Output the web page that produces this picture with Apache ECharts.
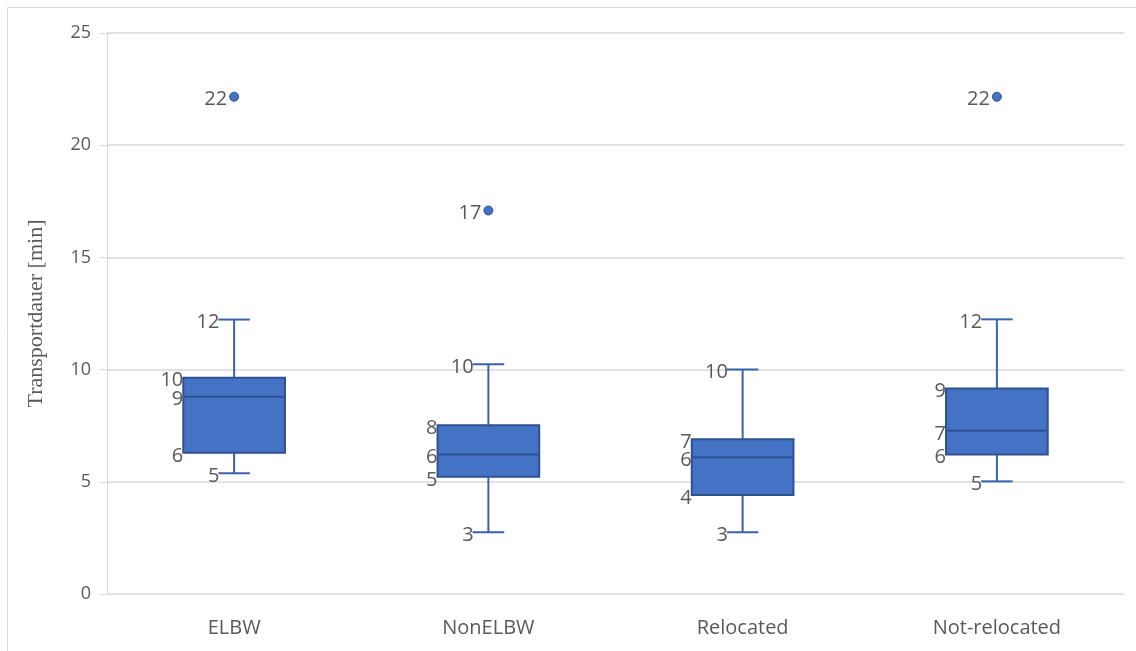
<!DOCTYPE html>
<html>
<head>
<meta charset="utf-8">
<script src="https://cdn.jsdelivr.net/npm/echarts@6/dist/echarts.min.js"></script>
<style>
html,body{margin:0;padding:0;background:#fff;}
#chart{width:1136px;height:651px;}
</style>
</head>
<body>
<div id="chart"></div>
<script>
// ---- data ----
const categories = ['ELBW', 'NonELBW', 'Relocated', 'Not-relocated'];
const whiskerLow  = [5.38, 2.75, 2.75, 5.02];
const q1          = [6.29, 5.22, 4.41, 6.22];
const median      = [8.79, 6.22, 6.09, 7.27];
const q3          = [9.64, 7.52, 6.90, 9.16];
const whiskerHigh = [12.23, 10.24, 10.0, 12.24];
const outliers    = [[0, 22.16], [1, 17.09], [3, 22.16]];
const yTicks = [0, 5, 10, 15, 20, 25];

const boxData = categories.map((c, i) => [i, whiskerLow[i], q1[i], median[i], q3[i], whiskerHigh[i]]);

const FILL = '#4472C4', BORDER = '#2F528F', WHISK = '#3862AE', LABEL = '#595959';
const labelFont = '20px "Open Sans", sans-serif';

function renderBox(params, api) {
  const idx = api.value(0);
  const vals = [api.value(1), api.value(2), api.value(3), api.value(4), api.value(5)];
  const pts = vals.map(v => api.coord([idx, v]));
  const cx = pts[0][0];
  const bw = api.size([1, 0])[0] * 0.4;
  const cw = bw * 0.31;
  const yLow = pts[0][1], yQ1 = pts[1][1], yMed = pts[2][1], yQ3 = pts[3][1], yHigh = pts[4][1];
  const children = [];
  const lineStyle = {stroke: WHISK, lineWidth: 2};
  children.push({type: 'line', shape: {x1: cx, y1: yHigh, x2: cx, y2: yQ3}, style: lineStyle});
  children.push({type: 'line', shape: {x1: cx, y1: yQ1, x2: cx, y2: yLow}, style: lineStyle});
  children.push({type: 'line', shape: {x1: cx - cw / 2, y1: yHigh, x2: cx + cw / 2, y2: yHigh}, style: lineStyle});
  children.push({type: 'line', shape: {x1: cx - cw / 2, y1: yLow, x2: cx + cw / 2, y2: yLow}, style: lineStyle});
  children.push({type: 'rect', shape: {x: cx - bw / 2, y: yQ3, width: bw, height: yQ1 - yQ3},
    style: {fill: FILL, stroke: BORDER, lineWidth: 2}});
  children.push({type: 'line', shape: {x1: cx - bw / 2, y1: yMed, x2: cx + bw / 2, y2: yMed},
    style: {stroke: BORDER, lineWidth: 2}});
  // labels
  const lab = (v, x, y) => ({type: 'text', style: {text: String(Math.round(v)), x: x, y: y + 3,
    align: 'right', verticalAlign: 'middle', font: labelFont, fill: LABEL}});
  children.push(lab(vals[4], cx - cw / 2 + 1, yHigh));
  children.push(lab(vals[3], cx - bw / 2, yQ3));
  children.push(lab(vals[2], cx - bw / 2, yMed));
  children.push(lab(vals[1], cx - bw / 2, yQ1));
  children.push(lab(vals[0], cx - cw / 2 + 1, yLow));
  return {type: 'group', children: children};
}

const chart = echarts.init(document.getElementById('chart'));
chart.setOption({
  backgroundColor: '#fff',
  animation: false,
  graphic: [
    {type: 'line', shape: {x1: 7.5, y1: 7.5, x2: 1136, y2: 7.5}, style: {stroke: '#d9d9d9', lineWidth: 1}},
    {type: 'line', shape: {x1: 7.5, y1: 7.5, x2: 7.5, y2: 651}, style: {stroke: '#d9d9d9', lineWidth: 1}}
  ],
  grid: {left: 107, right: 12, top: 33, bottom: 57, containLabel: false},
  xAxis: {
    type: 'category',
    data: categories,
    axisLine: {show: false},
    axisTick: {show: false},
    axisLabel: {color: LABEL, fontSize: 20, fontFamily: '"Open Sans", sans-serif', margin: 24},
    splitLine: {show: false}
  },
  yAxis: {
    type: 'value',
    min: yTicks[0],
    max: yTicks[yTicks.length - 1],
    interval: 5,
    name: 'Transportdauer [min]',
    nameLocation: 'middle',
    nameGap: 60,
    nameTextStyle: {color: LABEL, fontSize: 22, fontFamily: '"Liberation Serif", serif'},
    axisLine: {show: true, lineStyle: {color: '#d9d9d9', width: 1}},
    axisTick: {show: true, length: 8, lineStyle: {color: '#d9d9d9'}},
    axisLabel: {color: LABEL, fontSize: 18, fontFamily: '"Open Sans", sans-serif', margin: 16},
    splitLine: {show: true, lineStyle: {color: '#d9d9d9', width: 1.5}}
  },
  series: [
    {
      type: 'custom',
      renderItem: renderBox,
      data: boxData,
      encode: {x: 0, y: [1, 2, 3, 4, 5]},
      z: 3
    },
    {
      type: 'scatter',
      data: outliers,
      symbolSize: 9,
      itemStyle: {color: FILL, borderColor: BORDER, borderWidth: 1, opacity: 1},
      label: {
        show: true, position: 'left', distance: 2,
        formatter: p => String(Math.round(p.value[1])),
        color: LABEL, fontSize: 20, fontFamily: '"Open Sans", sans-serif', offset: [0, 3]
      },
      z: 4
    }
  ]
});
</script>
</body>
</html>
